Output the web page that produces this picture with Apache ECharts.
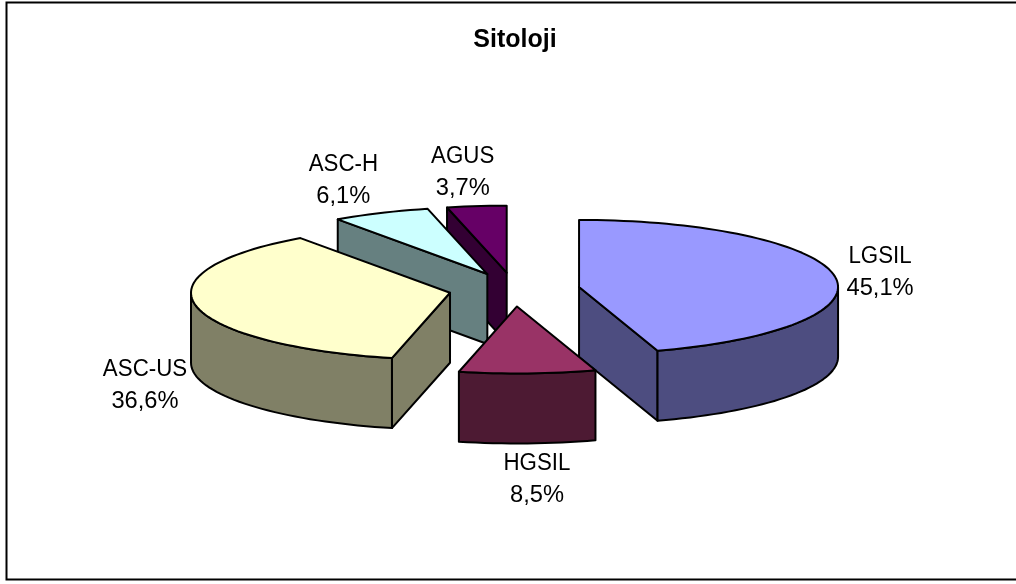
<!DOCTYPE html>
<html>
<head>
<meta charset="utf-8">
<title>Sitoloji</title>
<script src="https://cdn.jsdelivr.net/npm/echarts@6/dist/echarts.min.js"></script>
<style>
  html, body { margin: 0; padding: 0; background: #fff; }
  #chart { width: 1016px; height: 584px; }
</style>
</head>
<body>
<div id="chart"></div>
<script>
// Cytology result shares, in percent, clockwise from twelve o'clock.
const categories = ['LGSIL', 'HGSIL', 'ASC-US', 'ASC-H', 'AGUS'];
const shares = [45.1, 8.5, 36.6, 6.1, 3.7];
const chartTitle = 'Sitoloji';

const topColors = ['#9999FF', '#993366', '#FFFFCC', '#CCFFFF', '#660066'];
const wallColors = ['#4D4D80', '#4D1A33', '#808066', '#668080', '#330033'];

// Painter's order: slices further back are drawn first.
const paintOrder = [4, 3, 2, 0, 1];

// Pie projection: one axis unit is one ellipse radius along each direction.
const W = 1016, H = 584;
const RX = 259, RY = 67;
const CX = 514.3, CY = 289.5;
const DEPTH = 70 / RY;
const EXPLODE = 0.253;

// Label centres relative to each slice's displaced tip, in pixels.
const labelOffsets = [[301, -14], [20, 173], [-305, 92.5], [-144, -93], [-44, -100]];
const LINE_GAP = 16;

const total = shares.reduce((a, b) => a + b, 0);
let running = 0;
const rows = shares.map((v, i) => {
  const start = running / total * 360;
  running += v;
  return { i, start, end: running / total * 360 };
});
const seriesData = paintOrder.map(i => [rows[i].start, rows[i].end, i]);

const rad = d => d * Math.PI / 180;
const onRim = (tip, deg, drop) => [
  tip[0] + Math.sin(rad(deg)),
  tip[1] + Math.cos(rad(deg)) - drop
];
const arc = (tip, a, b, drop) => {
  const n = Math.max(2, Math.ceil((b - a) / 2));
  const pts = [];
  for (let k = 0; k <= n; k++) pts.push(onRim(tip, a + (b - a) * k / n, drop));
  return pts;
};

// One centred line of label text, squeezed or widened horizontally about its centre.
const labelLine = (text, x, y, stretch) => ({
  type: 'text',
  silent: true,
  x, y,
  scaleX: stretch,
  style: {
    x: 0, y: 0, text,
    font: '23px "Liberation Sans", Arial, sans-serif',
    fill: '#000',
    align: 'center',
    verticalAlign: 'middle'
  }
});

function renderSlice(params, api) {
  const a = api.value(0), b = api.value(1), idx = api.value(2);
  const mid = rad((a + b) / 2);
  const tip = [EXPLODE * Math.sin(mid), EXPLODE * Math.cos(mid)];
  const toPx = pts => pts.map(p => api.coord(p));
  const edge = { stroke: '#000', lineWidth: 2, lineJoin: 'round' };
  const poly = (pts, fill) => ({
    type: 'polygon',
    shape: { points: toPx(pts) },
    style: Object.assign({ fill }, edge)
  });
  const children = [];
  const tipLow = [tip[0], tip[1] - DEPTH];

  // Radial cut faces turn towards the viewer only on one side of the pie.
  if (Math.sin(rad(a)) < 0) {
    children.push(poly([tip, onRim(tip, a, 0), onRim(tip, a, DEPTH), tipLow], wallColors[idx]));
  }
  if (Math.sin(rad(b)) > 0) {
    children.push(poly([tip, onRim(tip, b, 0), onRim(tip, b, DEPTH), tipLow], wallColors[idx]));
  }

  // Rim wall: only the front half of the ellipse is visible.
  const wa = Math.max(a, 90), wb = Math.min(b, 270);
  if (wb > wa) {
    children.push(poly(arc(tip, wa, wb, 0).concat(arc(tip, wa, wb, DEPTH).reverse()), wallColors[idx]));
  }

  // Top face.
  children.push(poly([tip].concat(arc(tip, a, b, 0)), topColors[idx]));

  // Name and percentage label.
  const px = api.coord(tip);
  const lx = px[0] + labelOffsets[idx][0], ly = px[1] + labelOffsets[idx][1];
  children.push(labelLine(categories[idx], lx, ly - LINE_GAP, 0.97));
  children.push(labelLine(shares[idx].toFixed(1).replace('.', ',') + '%', lx, ly + LINE_GAP, 1.03));
  return { type: 'group', children };
}

const chart = echarts.init(document.getElementById('chart'), null, { renderer: 'canvas' });
chart.setOption({
  animation: false,
  backgroundColor: '#fff',
  title: {
    text: chartTitle,
    left: 510,
    top: 23,
    textAlign: 'center',
    textStyle: { fontFamily: '"Liberation Sans", Arial, sans-serif', fontSize: 25, fontWeight: 'bold', color: '#000' }
  },
  grid: { left: 0, right: 0, top: 0, bottom: 0 },
  xAxis: { type: 'value', show: false, min: -CX / RX, max: (W - CX) / RX },
  yAxis: { type: 'value', show: false, min: -(H - CY) / RY, max: CY / RY },
  graphic: [{
    type: 'polyline',
    silent: true,
    z: -1,
    shape: { points: [[1020, 2.5], [6.5, 2.5], [6.5, 579.5], [1020, 579.5]] },
    style: { fill: null, stroke: '#000', lineWidth: 2 }
  }],
  series: [{
    type: 'custom',
    coordinateSystem: 'cartesian2d',
    clip: false,
    silent: true,
    encode: { x: 0, y: 1 },
    data: seriesData,
    renderItem: renderSlice
  }]
});
</script>
</body>
</html>
